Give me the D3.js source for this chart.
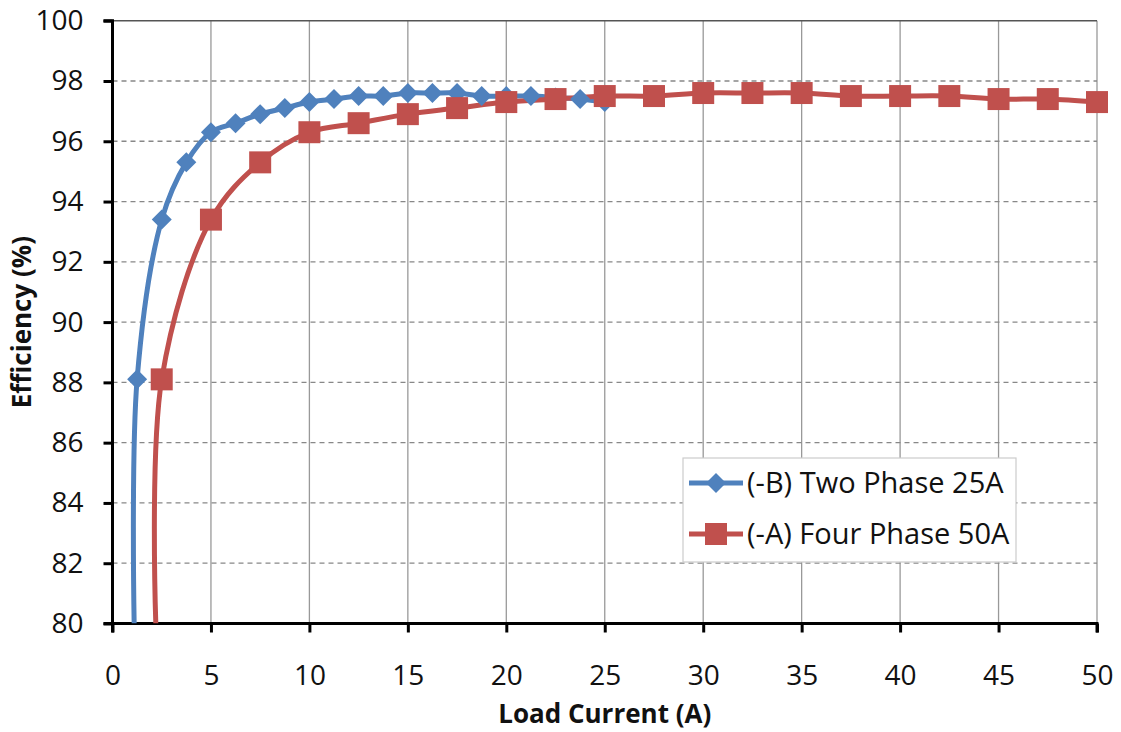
<!DOCTYPE html>
<html lang="en">
<head>
    <meta charset="UTF-8">
    <title>Efficiency vs Load Current</title>
    <script src="https://d3js.org/d3.v7.min.js"></script>
    <style>
        body { margin: 0; background: #fff; }
        text { font-family: 'Open Sans', sans-serif; fill: #111; }
        .tick text { font-size: 28px; }
        .axis-title { font-size: 26px; font-weight: bold; }
        .legend text { font-size: 29px; }
    </style>
</head>
<body>
<script>
    // Load current (A) and efficiency (%)
    const twoPhaseCurrent = [1.1, 1.25, 2.5, 3.75, 5, 6.25, 7.5, 8.75, 10, 11.25, 12.5, 13.75, 15, 16.25, 17.5, 18.75, 20, 21.25, 22.5, 23.75, 25];
    const twoPhaseEff     = [80, 88.1, 93.4, 95.3, 96.3, 96.6, 96.9, 97.1, 97.3, 97.4, 97.5, 97.5, 97.6, 97.6, 97.6, 97.5, 97.5, 97.5, 97.45, 97.4, 97.3];
    const fourPhaseCurrent = [2.2, 2.5, 5, 7.5, 10, 12.5, 15, 17.5, 20, 22.5, 25, 27.5, 30, 32.5, 35, 37.5, 40, 42.5, 45, 47.5, 50];
    const fourPhaseEff     = [80, 88.1, 93.4, 95.3, 96.3, 96.6, 96.9, 97.1, 97.3, 97.4, 97.5, 97.5, 97.6, 97.6, 97.6, 97.5, 97.5, 97.5, 97.4, 97.4, 97.3];
    // first point is where the curve leaves the axis, no marker drawn there
    const seriesNames = ["(-B) Two Phase 25A", "(-A) Four Phase 50A"];
    const xTicks = [0, 5, 10, 15, 20, 25, 30, 35, 40, 45, 50];
    const yTicks = [80, 82, 84, 86, 88, 90, 92, 94, 96, 98, 100];

    const W = 1121, H = 732;
    const margin = {top: 20.7, right: 24, bottom: 108.5, left: 112.5};
    const width = W - margin.left - margin.right,
          height = H - margin.top - margin.bottom;

    const blue = "#4F81BD", red = "#C0504D";

    const svg = d3.select("body").append("svg")
        .attr("width", W).attr("height", H);
    const g = svg.append("g")
        .attr("transform", `translate(${margin.left},${margin.top})`);

    const x = d3.scaleLinear().domain([0, 50]).range([0, width]);
    const y = d3.scaleLinear().domain([80, 100]).range([height, 0]);

    // vertical gridlines (solid)
    g.append("g").selectAll("line")
        .data(xTicks.slice(1))
        .join("line")
        .attr("x1", d => x(d)).attr("x2", d => x(d))
        .attr("y1", 0).attr("y2", height)
        .attr("stroke", "#999").attr("stroke-width", 1.3);

    // horizontal gridlines (dashed)
    g.append("g").selectAll("line")
        .data(yTicks.slice(1, -1))
        .join("line")
        .attr("x1", 0).attr("x2", width)
        .attr("y1", d => y(d)).attr("y2", d => y(d))
        .attr("stroke", "#888").attr("stroke-width", 1.3)
        .attr("stroke-dasharray", "5,4");

    // top border
    g.append("line")
        .attr("x1", 0).attr("x2", width).attr("y1", 0).attr("y2", 0)
        .attr("stroke", "#555").attr("stroke-width", 1.5);

    // axes
    const xAxis = g.append("g")
        .attr("transform", `translate(0,${height})`)
        .call(d3.axisBottom(x).tickValues(xTicks).tickSize(9).tickPadding(33));
    const yAxis = g.append("g")
        .call(d3.axisLeft(y).tickValues(yTicks).tickSize(9).tickPadding(20));
    [xAxis, yAxis].forEach(a => {
        a.select(".domain").attr("stroke", "#000").attr("stroke-width", 3);
        a.selectAll(".tick line").attr("stroke", "#000").attr("stroke-width", 3);
        a.selectAll(".tick text").attr("fill", "#111");
    });
    yAxis.select(".domain").attr("d", `M-9,0H0V${height}H-9`);
    xAxis.select(".domain").attr("d", `M0,9V0H${width}V9`);

    // clip to plot area
    svg.append("defs").append("clipPath").attr("id", "plot")
        .append("rect").attr("width", width).attr("height", height);

    const line = d3.line()
        .x(d => x(d[0])).y(d => y(d[1]))
        .curve(d3.curveCatmullRom.alpha(0.5));

    const series = [
        {name: seriesNames[0], color: blue, shape: "diamond",
         pts: twoPhaseCurrent.map((c, i) => [c, twoPhaseEff[i]])},
        {name: seriesNames[1], color: red, shape: "square",
         pts: fourPhaseCurrent.map((c, i) => [c, fourPhaseEff[i]])}
    ];

    const diamond = s => `M0,${-s}L${s},0L0,${s}L${-s},0Z`;
    const square = s => `M${-s},${-s}H${s}V${s}H${-s}Z`;

    const plot = g.append("g").attr("clip-path", "url(#plot)");
    series.forEach(s => {
        plot.append("path")
            .attr("d", line(s.pts))
            .attr("fill", "none")
            .attr("stroke", s.color)
            .attr("stroke-width", 5);
    });
    // markers drawn on top, not clipped (last red square hangs over right edge)
    series.forEach(s => {
        g.append("g").selectAll("path")
            .data(s.pts.slice(1))
            .join("path")
            .attr("transform", d => `translate(${x(d[0])},${y(d[1])})`)
            .attr("d", s.shape === "diamond" ? diamond(10) : square(11))
            .attr("fill", s.color);
    });

    // axis titles
    svg.append("text").attr("class", "axis-title")
        .attr("x", margin.left + width / 2).attr("y", 723)
        .attr("text-anchor", "middle")
        .text("Load Current (A)");
    svg.append("text").attr("class", "axis-title")
        .attr("transform", `translate(31,${margin.top + height / 2}) rotate(-90)`)
        .attr("text-anchor", "middle")
        .text("Efficiency (%)");

    // legend
    const lg = svg.append("g").attr("class", "legend")
        .attr("transform", "translate(683,458)");
    lg.append("rect")
        .attr("width", 333).attr("height", 104)
        .attr("fill", "#fff").attr("stroke", "#ccc").attr("stroke-width", 1.2);
    series.forEach((s, i) => {
        const row = lg.append("g").attr("transform", `translate(0,${25 + i * 51})`);
        row.append("line")
            .attr("x1", 6).attr("x2", 60)
            .attr("stroke", s.color).attr("stroke-width", 5);
        row.append("path")
            .attr("transform", "translate(33,0)")
            .attr("d", s.shape === "diamond" ? diamond(10) : square(11))
            .attr("fill", s.color);
        row.append("text")
            .attr("x", 64).attr("dy", "0.35em")
            .text(s.name);
    });
</script>
</body>
</html>
